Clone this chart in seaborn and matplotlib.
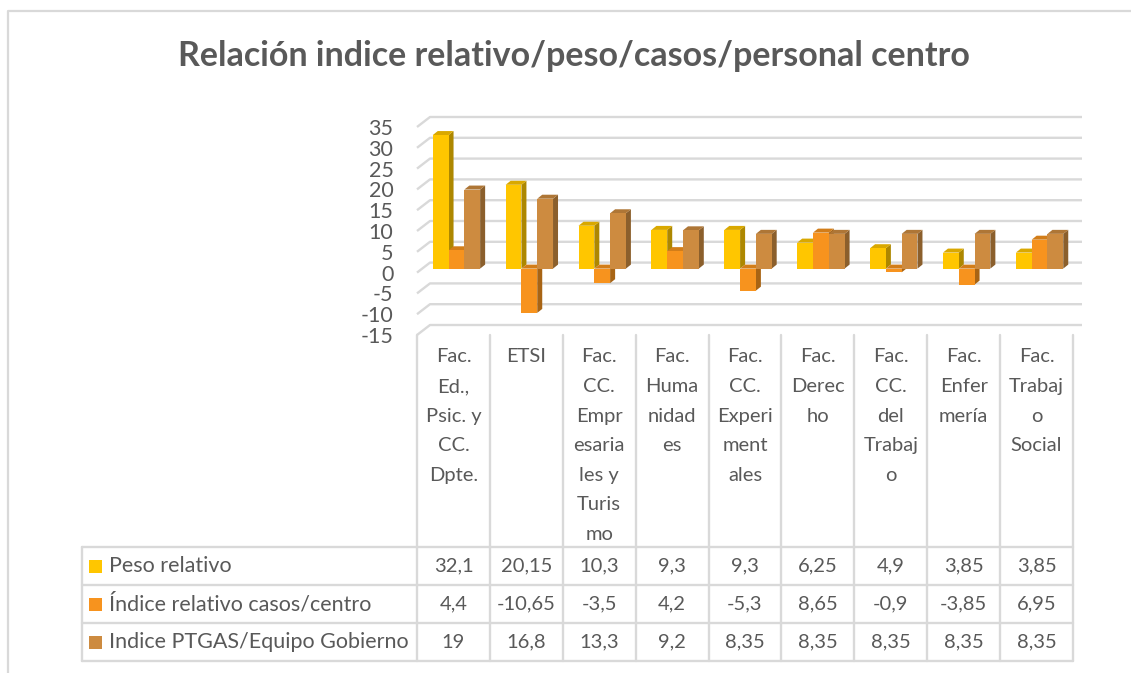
import numpy as np
import pandas as pd
import matplotlib
matplotlib.use("Agg")
import matplotlib.pyplot as plt
import seaborn as sns
from matplotlib.patches import Polygon, Rectangle
from matplotlib.transforms import ScaledTranslation

# ---------------- data ----------------
title = "Relación indice relativo/peso/casos/personal centro"
categories = [
    "Fac.\nEd.,\nPsic. y\nCC.\nDpte.",
    "ETSI",
    "Fac.\nCC.\nEmpr\nesaria\nles y\nTuris\nmo",
    "Fac.\nHuma\nnidad\nes",
    "Fac.\nCC.\nExperi\nment\nales",
    "Fac.\nDerec\nho",
    "Fac.\nCC.\ndel\nTrabaj\no",
    "Fac.\nEnfer\nmería",
    "Fac.\nTrabaj\no\nSocial",
]
series_names = ["Peso relativo", "Índice relativo casos/centro", "Indice PTGAS/Equipo Gobierno"]
peso = [32.1, 20.15, 10.3, 9.3, 9.3, 6.25, 4.9, 3.85, 3.85]
indice_casos = [4.4, -10.65, -3.5, 4.2, -5.3, 8.65, -0.9, -3.85, 6.95]
indice_ptgas = [19, 16.8, 13.3, 9.2, 8.35, 8.35, 8.35, 8.35, 8.35]
yticks = [-15, -10, -5, 0, 5, 10, 15, 20, 25, 30, 35]
colors = ["#FFC600", "#F7931E", "#CD8B40"]

series_values = [peso, indice_casos, indice_ptgas]
df = pd.DataFrame({
    "cat": categories * 3,
    "serie": [n for n in series_names for _ in categories],
    "valor": peso + indice_casos + indice_ptgas,
})

# ---------------- style ----------------
sns.set_theme(style="white")
plt.rcParams["font.family"] = ["Lato", "DejaVu Sans"]
plt.rcParams["axes.unicode_minus"] = False
TXT = "#595959"
GRID = "#d9d9d9"

W, H = 1131, 673
fig = plt.figure(figsize=(W / 100, H / 100), dpi=100)
fig.patch.set_facecolor("white")

ov = fig.add_axes([0, 0, 1, 1], zorder=0)
ov.set_xlim(0, W)
ov.set_ylim(H, 0)
ov.axis("off")

ax = fig.add_axes([417 / W, (H - 335) / H, 656 / W, 208 / H], zorder=1)
ax.set_facecolor("none")
sns.barplot(data=df, x="cat", y="valor", hue="serie", hue_order=series_names,
            palette=colors, width=0.65, gap=0, saturation=1, ax=ax,
            legend=False, edgecolor="none", linewidth=0)
ax.set_xlim(-0.5, len(categories) - 0.5)
ax.set_ylim(min(yticks), max(yticks))
ax.set_xticks([])
ax.set_xlabel("")
ax.set_ylabel("")
ax.set_yticks(yticks)
ax.tick_params(axis="y", length=0, pad=17, labelsize=15.5, labelcolor=TXT)
for s in ax.spines.values():
    s.set_visible(False)


def to_px(x, y):
    X, Y = ax.transData.transform((x, y))
    return X, H - Y


# bars sit mid-depth: shift them slightly right/up from the front plane
SHX, SHY = 3, 4
shift = ScaledTranslation(SHX / 100, SHY / 100, fig.dpi_scale_trans)
for p in ax.patches:
    p.set_transform(ax.transData + shift)
    p.set_clip_on(False)

# back-wall gridlines with perspective stub
for t in yticks:
    xl, yy = to_px(-0.5, t)
    xr, _ = to_px(len(categories) - 0.5, t)
    ov.plot([xl, xl + 13, xr + 9], [yy, yy - 10, yy - 10], color=GRID, lw=1.7, zorder=1,
            solid_capstyle="butt")

# 3D faces of the bars (derived from the seaborn bars)
dx, dy = 5, 4
for p in ax.patches:
    x0, w = p.get_x(), p.get_width()
    y0, h = p.get_y(), p.get_height()
    top, bot = max(y0, y0 + h), min(y0, y0 + h)
    X0, Yt = to_px(x0, top)
    X1, _ = to_px(x0 + w, top)
    _, Yb = to_px(x0, bot)
    X0, X1, Yt, Yb = X0 + SHX, X1 + SHX, Yt - SHY, Yb - SHY
    fc = np.array(p.get_facecolor()[:3])
    side = Polygon([(X1, Yt), (X1 + dx, Yt - dy), (X1 + dx, Yb - dy), (X1, Yb)],
                   closed=True, facecolor=fc * 0.68, edgecolor="none", zorder=3)
    topf = Polygon([(X0, Yt), (X0 + dx, Yt - dy), (X1 + dx, Yt - dy), (X1, Yt)],
                   closed=True, facecolor=fc * 0.85, edgecolor="none", zorder=3)
    ov.add_patch(side)
    ov.add_patch(topf)

# ---------------- data table ----------------
bx = [to_px(i - 0.5, 0)[0] for i in range(len(categories) + 1)]
y_axis_bottom = to_px(0, min(yticks))[1]
row_top = 547
row_h = 38
n_rows = len(series_names)
table_bottom = row_top + n_rows * row_h
x_left = 82

for xb in bx:
    ov.plot([xb, xb], [y_axis_bottom, table_bottom], color=GRID, lw=1.7, zorder=1)
ov.plot([x_left, x_left], [row_top, table_bottom], color=GRID, lw=1.7, zorder=1)
for r in range(n_rows + 1):
    yl = row_top + r * row_h
    ov.plot([x_left, bx[-1]], [yl, yl], color=GRID, lw=1.7, zorder=1)

# header (category labels)
for i, cat in enumerate(categories):
    cx = (bx[i] + bx[i + 1]) / 2
    for k, line in enumerate(cat.split("\n")):
        ov.text(cx, 357 + k * 29.6, line, ha="center", va="center",
                fontsize=14.5, color=TXT)

# rows
for r, (name, vals, col) in enumerate(zip(series_names, series_values, colors)):
    yc = row_top + r * row_h + row_h / 2
    ov.add_patch(Rectangle((89, yc - 6.5), 13, 13, facecolor=col, edgecolor="none"))
    ov.text(109, yc, name, ha="left", va="center", fontsize=15.5, color=TXT)
    for i, v in enumerate(vals):
        cx = (bx[i] + bx[i + 1]) / 2
        ov.text(cx, yc, f"{v:g}".replace(".", ","), ha="center", va="center",
                fontsize=14.5, color=TXT)

# title
ov.text(574, 56, title, ha="center", va="center", fontsize=24.5, fontweight="bold", color=TXT)

# chart border
ov.plot([8, 8, W + 5], [H + 5, 11, 11], color=GRID, lw=1.6, clip_on=False, zorder=1)

fig.savefig("out.png", dpi=100)
